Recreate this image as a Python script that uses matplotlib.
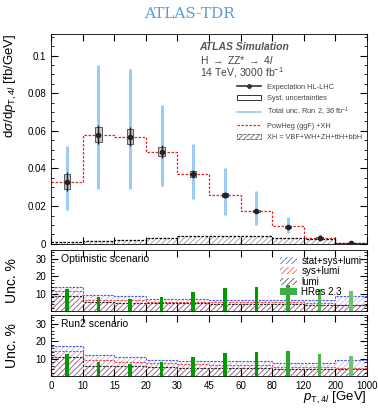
import matplotlib
matplotlib.use('Agg')
import matplotlib.pyplot as plt
from matplotlib.lines import Line2D
from matplotlib.patches import Patch, Rectangle
from matplotlib.ticker import MultipleLocator
import numpy as np

plt.rcParams['font.family'] = ['Liberation Sans', 'DejaVu Sans']
plt.rcParams['hatch.linewidth'] = 0.5
plt.rcParams['mathtext.fontset'] = 'custom'
plt.rcParams['mathtext.it'] = 'Liberation Sans:italic'
plt.rcParams['mathtext.rm'] = 'Liberation Sans'

# bin edges of pT,4l [GeV] (drawn with equal width)
edge_labels = ['0', '10', '15', '20', '30', '45', '60', '80', '120', '200', '1000']
edges = np.arange(len(edge_labels))
centers = edges[:-1] + 0.5

# main panel [fb/GeV]
expected = [0.033, 0.058, 0.057, 0.049, 0.037, 0.026, 0.0175, 0.009, 0.003, 0.0003]
stat_err = [0.005, 0.005, 0.005, 0.0035, 0.002, 0.0015, 0.001, 0.0008, 0.0006, 0.0003]
syst_err = [0.004, 0.004, 0.004, 0.0025, 0.0015, 0.001, 0.0007, 0.0005, 0.0004, 0.0002]
run2_lo = [0.018, 0.029, 0.029, 0.0305, 0.0237, 0.0153, 0.010, 0.0058, 0.0015, np.nan]
run2_hi = [0.052, 0.095, 0.093, 0.0737, 0.053, 0.040, 0.0279, 0.0142, 0.005, np.nan]
powheg = [0.033, 0.058, 0.057, 0.049, 0.037, 0.026, 0.0175, 0.0095, 0.0033, 0.0003]
xh = [0.0008, 0.0015, 0.0022, 0.003, 0.004, 0.004, 0.004, 0.003, 0.0025, 0.0003]

# uncertainty panels [%]
opt_total = [13.6, 9.4, 8.5, 7.2, 6.9, 6.7, 6.7, 6.7, 6.7, 8.7]
opt_sys = [11.3, 6.7, 6.3, 5.4, 5.2, 5.0, 5.0, 5.0, 4.8, 3.7]
opt_lumi = [8.5, 5.0, 4.8, 4.5, 4.5, 4.3, 4.3, 4.0, 3.8, 3.3]
run2_total = [17.5, 12.3, 10.9, 9.4, 8.9, 8.9, 8.9, 7.5, 7.5, 9.4]
run2_sys = [14.7, 9.4, 8.1, 7.5, 7.0, 6.6, 6.6, 5.3, 5.3, 5.0]
run2_lumi = [11.0, 6.0, 5.6, 5.3, 5.0, 4.8, 4.6, 4.3, 4.0, 4.0]
hres = [12.7, 8.2, 6.9, 8.3, 11.1, 13.3, 13.9, 14.7, 12.8, 11.5]
hres_colors = ['#009a00'] * 7 + ['#29a829', '#4ab64a', '#6cc46c']

fig = plt.figure(figsize=(3.78, 4.09), dpi=100)
fig.text(0.5, 0.965, 'ATLAS-TDR', ha='center', va='center', color='#5b9bd5',
         fontsize=11, family='DejaVu Serif')

ax = fig.add_axes([0.135, 0.404, 0.836, 0.513])
ax1 = fig.add_axes([0.135, 0.239, 0.836, 0.150])
ax2 = fig.add_axes([0.135, 0.080, 0.836, 0.150])

blue = '#9ccbf5'

# main panel
ax.stairs(xh, edges, fill=True, facecolor='none', edgecolor='#888888', hatch='//////', linewidth=0)
ax.stairs(xh, edges, baseline=None, color='black', linestyle=(0, (2, 1.2)), linewidth=0.9)
ax.stairs(powheg, edges, baseline=None, color='#ee2222', linestyle=(0, (2, 1.2)), linewidth=0.9)
ax.vlines(centers, run2_lo, run2_hi, color=blue, linewidth=2.2, zorder=3)
for c, y, s in zip(centers, expected, syst_err):
    ax.add_patch(Rectangle((c - 0.1, y - s), 0.2, 2 * s, facecolor='#bbbbbb', alpha=0.8,
                           edgecolor='#333333', linewidth=0.7, zorder=4))
ax.errorbar(centers, expected, yerr=stat_err, fmt='o', color='#222222', markersize=3,
            elinewidth=1.0, capsize=0, zorder=5)

ax.set_xlim(0, 10)
ax.set_ylim(0, 0.1115)
ax.yaxis.set_minor_locator(MultipleLocator(0.005))
ax.set_yticks([0, 0.02, 0.04, 0.06, 0.08, 0.1])
ax.set_yticklabels(['0', '0.02', '0.04', '0.06', '0.08', '0.1'])
ax.set_ylabel(r'd$\sigma$/d$p_{\mathrm{T},4l}$ [fb/GeV]', fontsize=9.5, loc='top')

ax.text(0.47, 0.94, 'ATLAS Simulation', transform=ax.transAxes, fontsize=7.5,
        fontweight='bold', style='italic', color='#555555', va='center')
ax.text(0.47, 0.875, r'H $\rightarrow$ ZZ* $\rightarrow$ 4$l$', transform=ax.transAxes,
        fontsize=7.5, color='#444444', va='center')
ax.text(0.47, 0.815, r'14 TeV, 3000 fb$^{-1}$', transform=ax.transAxes,
        fontsize=7.5, color='#444444', va='center')

handles = [
    Line2D([], [], color='#333333', marker='o', markersize=2.5, linewidth=1.2),
    Patch(facecolor='white', edgecolor='#333333', linewidth=0.7),
    Line2D([], [], color=blue, linewidth=1.2),
    Line2D([], [], color='#ee2222', linestyle=(0, (2, 1.2)), linewidth=0.9),
    Patch(facecolor='none', edgecolor='#555555', hatch='//////', linestyle='--', linewidth=0.6),
]
labels = ['Expectation HL-LHC', 'Syst. uncertainties', r'Total unc. Run 2, 36 fb$^{-1}$',
          'PowHeg (ggF) +XH', 'XH = VBF+WH+ZH+ttH+bbH']
ax.legend(handles, labels, loc='upper right', bbox_to_anchor=(1.0, 0.79), frameon=False,
          fontsize=5.3, handlelength=3.2, handleheight=0.8, labelspacing=0.55, borderpad=0.2,
          labelcolor='#444444')


def unc_panel(a, total, sys, lumi, title):
    a.stairs(total, edges, fill=True, facecolor='none', edgecolor='#b0b8f2', hatch='//////', linewidth=0)
    a.stairs(sys, edges, fill=True, facecolor='none', edgecolor='#f2a8b8', hatch='//////', linewidth=0)
    a.stairs(lumi, edges, fill=True, facecolor='none', edgecolor='#8a6a84', hatch='//////', linewidth=0)
    a.stairs(total, edges, baseline=None, color='#4455ee', linestyle=(0, (2, 1.2)), linewidth=0.8)
    a.stairs(sys, edges, baseline=None, color='#ee4444', linestyle=(0, (2, 1.2)), linewidth=0.8)
    a.stairs(lumi, edges, baseline=None, color='#222222', linestyle=(0, (2, 1.2)), linewidth=0.8)
    a.bar(centers, hres, width=0.11, color=hres_colors, zorder=4)
    a.set_xlim(0, 10)
    a.set_ylim(0, 35)
    a.set_yticks([10, 20, 30])
    a.yaxis.set_minor_locator(MultipleLocator(2))
    a.set_ylabel('Unc. %', fontsize=10)
    a.text(0.03, 0.85, title, transform=a.transAxes, fontsize=7.5, va='center')


unc_panel(ax1, opt_total, opt_sys, opt_lumi, 'Optimistic scenario')
unc_panel(ax2, run2_total, run2_sys, run2_lumi, 'Run2 scenario')

lhandles = [
    Patch(facecolor='none', edgecolor='#4455ee', hatch='//////', linewidth=0),
    Patch(facecolor='none', edgecolor='#ee4444', hatch='//////', linewidth=0),
    Patch(facecolor='none', edgecolor='#553344', hatch='//////', linewidth=0),
    Patch(facecolor='#3cb043', edgecolor='none'),
]
ax1.legend(lhandles, ['stat+sys+lumi', 'sys+lumi', 'lumi', 'HRes 2.3'], loc='upper right',
           frameon=False, fontsize=7, handlelength=1.8, handleheight=0.7, labelspacing=0.05,
           borderpad=0.1, handletextpad=0.4)

for a in (ax, ax1, ax2):
    a.set_xticks(edges)
    a.tick_params(which='both', direction='in', top=True, right=True, labelsize=7)
    a.tick_params(which='major', length=5)
    a.tick_params(which='minor', length=2.5)
    a.yaxis.set_label_coords(-0.1, 0.5 if a is not ax else 1.0)
    for s in a.spines.values():
        s.set_linewidth(0.6)

ax.set_xticklabels([])
ax1.set_xticklabels([])
ax2.set_xticklabels(edge_labels)
ax2.set_xlabel(r'$p_{\mathrm{T},4l}$ [GeV]', fontsize=9.5, ha='right')
ax2.xaxis.set_label_coords(1.0, -0.22, transform=ax2.transAxes)
ax2.xaxis.label.set_va('top')

fig.savefig('out.png', dpi=100)
